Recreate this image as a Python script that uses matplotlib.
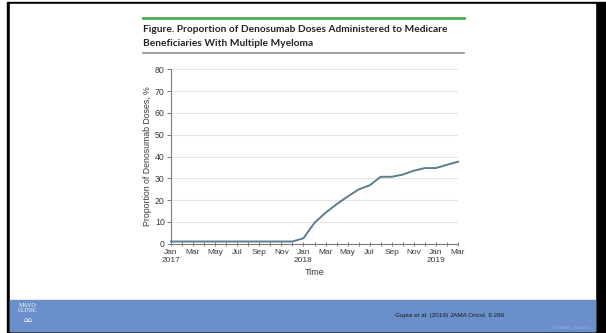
import matplotlib.pyplot as plt
import numpy as np
from matplotlib.patches import Rectangle
from matplotlib.lines import Line2D

# monthly values, Jan 2017 .. Mar 2019
months = np.arange(27)
proportion = [1.0, 1.0, 1.0, 1.0, 1.0, 1.0, 1.0, 1.0, 1.0, 1.0, 1.0, 1.0,
              2.5, 9.6, 14.2, 18.1, 21.6, 24.9, 26.8, 30.7, 30.7, 31.7,
              33.5, 34.7, 34.7, 36.2, 37.6]
month_labels = ['Jan', 'Mar', 'May', 'Jul', 'Sep', 'Nov']
year_labels = {0: '2017', 12: '2018', 24: '2019'}
y_ticks = [0, 10, 20, 30, 40, 50, 60, 70, 80]

W, H = 606, 333
fig = plt.figure(figsize=(W / 100, H / 100), dpi=100)
fig.patch.set_facecolor('white')
FONT = 'Liberation Sans'


def fx(px):
    return px / W


def fy(py):
    return 1 - py / H


# slide frame + footer band
fig.patches.append(Rectangle((fx(7), 0), 1 - fx(7), fy(2), transform=fig.transFigure,
                             color='black', zorder=-2))
fig.patches.append(Rectangle((fx(10), fy(331)), fx(595) - fx(10), fy(4) - fy(331),
                             transform=fig.transFigure, color='white', zorder=-1))
fig.patches.append(Rectangle((fx(10), fy(331)), fx(595) - fx(10), fy(300) - fy(331),
                             transform=fig.transFigure, color='#6b8fca', zorder=-0.5))

# header rules and title
fig.lines.append(Line2D([fx(143), fx(464)], [fy(18), fy(18)], transform=fig.transFigure,
                        color='#4caf50', lw=2))
fig.lines.append(Line2D([fx(143), fx(464)], [fy(53), fy(53)], transform=fig.transFigure,
                        color='#9a9a9a', lw=1.3))
fig.text(fx(143), fy(29), 'Figure. Proportion of Denosumab Doses Administered to Medicare',
         fontsize=7.3, family='Lato', weight='bold', color='#222222', va='center')
fig.text(fx(143), fy(43), 'Beneficiaries With Multiple Myeloma',
         fontsize=7.3, family='Lato', weight='bold', color='#222222', va='center')

ax = fig.add_axes([fx(171), fy(243.7), fx(458) - fx(171), fy(69.3) - fy(243.7)])
ax.set_zorder(5)
ax.patch.set_alpha(0)
ax.plot(months, proportion, color='#5b7f8e', lw=1.4, clip_on=False, zorder=3)
ax.set_xlim(0, 26)
ax.set_ylim(0, 80)
ax.set_yticks(y_ticks)
ax.yaxis.grid(True, color='#e4e4e4', lw=0.8)
ax.set_axisbelow(True)
for s in ['top', 'right']:
    ax.spines[s].set_visible(False)
for s in ['left', 'bottom']:
    ax.spines[s].set_color('#7a7a7a')
    ax.spines[s].set_linewidth(0.8)

xt = np.arange(0, 27, 2)
xl = []
for m in xt:
    lab = month_labels[(m % 12) // 2]
    if m in year_labels:
        lab += '\n' + year_labels[m]
    xl.append(lab)
ax.set_xticks(xt)
ax.set_xticklabels(xl, fontsize=6, family=FONT, color='#3a3a3a',
                   linespacing=1.25, va='top')
ax.set_xticks(months, minor=True)
ax.tick_params(axis='x', which='both', direction='inout', length=3, width=0.7,
               color='#7a7a7a', pad=2)
ax.tick_params(axis='y', direction='out', length=3, width=0.7, color='#7a7a7a',
               labelsize=6.3, labelcolor='#3a3a3a', pad=1.5)
for t in ax.get_yticklabels():
    t.set_family(FONT)

ax.set_ylabel('Proportion of Denosumab Doses, %', fontsize=6.3,
              family=FONT, color='#3a3a3a', labelpad=2)
ax.set_xlabel('Time', fontsize=6.5, family=FONT, color='#3a3a3a', labelpad=3)

# footer text
fig.text(fx(395), fy(316), 'Gupta et al. (2019) JAMA Oncol. 6:296', fontsize=4.6,
         family=FONT, color='#1a1a1a', va='center')
fig.text(fx(28), fy(308), 'MAYO\nCLINIC', fontsize=4.3, family='Liberation Serif',
         color='white', ha='center', va='center', linespacing=0.85)
fig.text(fx(28), fy(320), '\u2302\u2302', fontsize=5, family='DejaVu Sans',
         color='white', ha='center', va='center')
fig.text(fx(590), fy(328), '\u00a92017 MFMER  |  3813056-22', fontsize=2.2,
         family=FONT, color='#9db3dd', ha='right', va='center')

fig.savefig('out.png', dpi=100)
